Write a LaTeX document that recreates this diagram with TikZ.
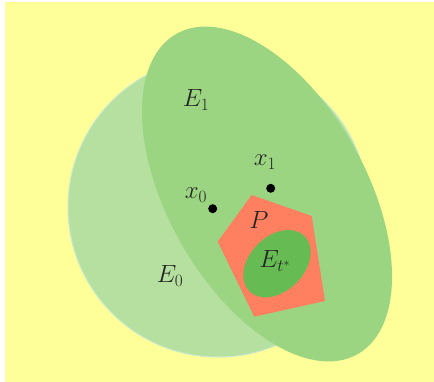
\documentclass[tikz,border=0pt]{standalone}
\begin{document}
\begin{tikzpicture}[x=1pt,y=-1pt,
  lbl/.style={inner sep=0pt,font=\fontsize{25}{30}\selectfont,text=black!85},
  pt/.style={circle,fill=black,inner sep=0pt,minimum size=9pt}]
\definecolor{bgyellow}{RGB}{255,255,153}
\definecolor{ezero}{RGB}{181,224,159}
\definecolor{ezeroedge}{RGB}{200,232,205}
\definecolor{eone}{RGB}{155,213,130}
\definecolor{pcol}{RGB}{255,128,96}
\definecolor{etcol}{RGB}{102,187,82}
\useasboundingbox (0,0) rectangle (434,382);
\fill[bgyellow] (5,2) rectangle (434,382);
\filldraw[fill=ezero,draw=ezeroedge,line width=1pt] (218,207) circle[radius=150pt];
\fill[eone] (267,194) ellipse[x radius=184pt,y radius=99pt,rotate=-60.5];
\fill[pcol] (251.7,195) -- (311.7,216) -- (325,301) -- (254.3,316.7) -- (217.7,241.7) -- cycle;
\fill[etcol] (277,263.7) ellipse[x radius=39pt,y radius=27.3pt,rotate=45];
\node[pt] (x0) at (212.7,208.7) {};
\node[pt] (x1) at (270.7,188.3) {};
\node[lbl] (lx0) at (196,195) {$x_0$};
\node[lbl] (lx1) at (265,162) {$x_1$};
\node[lbl] (lP) at (259,220) {$P$};
\node[lbl] (lEt) at (275,261) {$E_{t^*}$};
\node[lbl] (lE0) at (170,276) {$E_0$};
\node[lbl] (lE1) at (196,100) {$E_1$};
\end{tikzpicture}
\end{document}
